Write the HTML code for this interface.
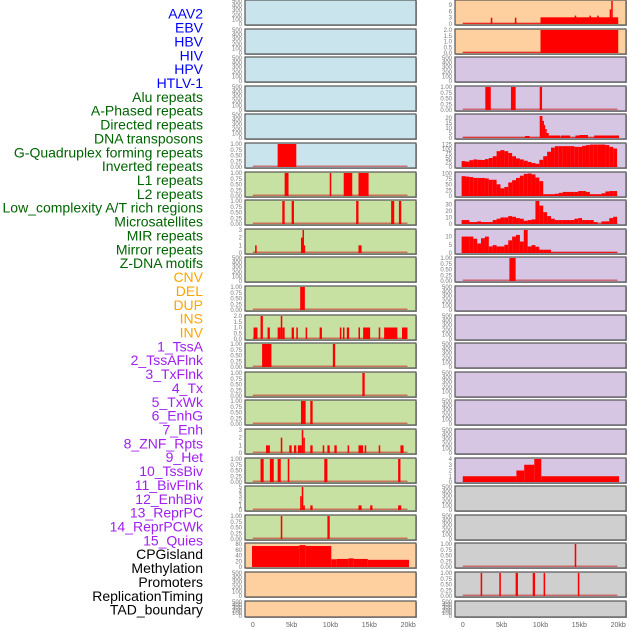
<!DOCTYPE html>
<html><head><meta charset="utf-8">
<style>
html,body{margin:0;padding:0;background:#fff;}
svg{display:block;font-family:"Liberation Sans",sans-serif;}
</style></head>
<body>
<svg id="chart" width="630" height="630" viewBox="0 0 630 630" xmlns="http://www.w3.org/2000/svg"></svg>
<script>
// ---------- data ----------
const labelNames = ["AAV2","EBV","HBV","HIV","HPV","HTLV-1","Alu repeats","A-Phased repeats","Directed repeats","DNA transposons","G-Quadruplex forming repeats","Inverted repeats","L1 repeats","L2 repeats","Low_complexity A/T rich regions","Microsatellites","MIR repeats","Mirror repeats","Z-DNA motifs","CNV","DEL","DUP","INS","INV","1_TssA","2_TssAFlnk","3_TxFlnk","4_Tx","5_TxWk","6_EnhG","7_Enh","8_ZNF_Rpts","9_Het","10_TssBiv","11_BivFlnk","12_EnhBiv","13_ReprPC","14_ReprPCWk","15_Quies","CPGisland","Methylation","Promoters","ReplicationTiming","TAD_boundary"];
const labelGroups = ["v","v","v","v","v","v","r","r","r","r","r","r","r","r","r","r","r","r","r","s","s","s","s","s","c","c","c","c","c","c","c","c","c","c","c","c","c","c","c","o","o","o","o","o"];
const xTicks = [0,5,10,15,20];
const xTickLabels = ["0","5kb","10kb","15kb","20kb"];

// segment tracks: [startKb, endKb, value]
const L5 = [[3.2,5.6,1]];
const L6 = [[4.1,4.6,1],[9.9,10.1,1],[11.7,12.8,1],[13.6,14.9,1]];
const L7 = [[3.8,4.1,1],[5.0,5.3,1],[13.3,13.6,1],[17.8,18.2,1],[18.8,19.1,1]];
const L8 = [[0.3,0.5,1],[6.2,6.4,2],[6.4,6.55,3],[6.55,6.7,1],[13.6,14.0,1]];
const L10 = [[6.1,6.7,1]];
const L11 = [[0.1,0.6,1],[1.0,1.3,2],[1.9,2.2,1],[3.2,3.6,1],[3.6,3.8,2],[3.8,4.1,1],[5.0,5.3,1],[5.6,5.8,1],[6.8,7.0,1],[8.6,8.9,1],[11.2,11.4,1],[11.6,11.8,1],[12.1,12.4,1],[13.6,13.8,1],[14.2,15.1,1],[16.2,16.4,1],[16.9,18.6,1],[19.2,19.9,1]];
const L12 = [[1.2,2.4,1],[10.3,10.6,1]];
const L13 = [[14.1,14.4,1]];
const L14 = [[6.2,6.8,1],[7.4,7.7,1]];
const L15 = [[1.7,2.2,1],[3.6,3.8,2],[4.7,5.0,1],[5.3,5.6,1],[5.8,6.3,1],[6.3,6.5,3],[6.5,6.7,2],[7.4,7.7,1],[9.0,9.2,1],[9.6,9.9,1],[10.5,10.8,1],[12.2,12.4,1],[13.6,14.2,1],[14.4,14.6,1],[16.2,16.4,1],[19.0,19.4,1]];
const L16 = [[1.0,1.4,1],[2.2,2.7,1],[3.2,3.6,1],[4.5,4.7,1],[9.2,9.6,1],[18.7,19.0,1]];
const L17 = [[6.1,6.3,3],[6.3,6.5,5],[6.5,6.7,1],[7.4,7.7,1],[13.6,14.0,1],[15.1,15.4,1],[18.7,19.1,1]];
const L18 = [[3.6,3.8,1],[9.6,9.9,1]];
const L19 = [[-0.1,6.0,73],[6.0,6.8,76],[6.8,10.1,73],[10.1,10.8,27],[10.8,12.3,28],[12.3,13.0,30],[13.0,14.8,28],[14.8,20.1,25]];

const R0 = [[0,10,0.3],[3.6,3.8,3],[6.7,6.9,3],[10,20,3.2],[14.4,14.6,4],[16.3,16.5,4],[17.3,17.5,4],[18.9,19.1,7],[19.1,19.2,11]];
const R1 = [[0,10,0.05],[10,20,2]];
const R3 = [[2.9,3.6,1],[6.2,6.8,1],[9.9,10.2,1]];
const R4 = [[0,8.0,0.5],[8.0,8.6,2],[8.6,9.9,0.5],[9.9,10.25,22],[10.25,10.4,17],[10.4,10.6,13],[10.6,10.75,9],[10.75,11.05,5],[11.05,12.5,2.5],[12.5,12.6,0.5],[12.6,13.8,2.5],[13.8,14.5,0.5],[14.5,15.0,2.5],[15.0,16.1,3],[16.1,16.9,0.5],[16.9,20.1,2.5]];
// binned tracks (0.5 kb bins starting at -0.15 kb)
const R5 = [33,30,38,42,40,39,44,50,60,88,94,88,78,60,48,42,35,28,22,18,40,60,85,108,116,116,116,116,116,112,112,118,122,125,125,125,125,122,112,103];
const R6 = [88,86,84,80,80,80,78,72,72,52,34,40,60,70,80,90,98,100,96,82,66,8,8,8,10,14,18,18,18,18,22,22,18,8,8,8,12,20,22,22];
const R7 = [6,6,3,3,4,3,3,3,6,8,10,10,12,11,9,8,5,6,7,35,28,18,12,8,6,6,6,6,6,8,9,6,6,6,3,0.5,4,4,9,11];
const R8 = [10,10,10,8.7,5.8,9,10,4,4.8,4,4,5,7.7,10,11,7,14,4,4.8,3.8,2,2,2,0.5,0.5,0.5,0.5,0.5,0.5,0.5,0.5,0.5,0.5,0.5,0.5,0.5,0.5,0.5,0.5,0.5];
const R9 = [[6.0,6.8,1]];
const R16 = [[0,6.9,1],[6.9,7.9,2],[7.9,9.2,3],[9.2,10.1,4],[10.1,20.1,1]];
const R19 = [[14.4,14.6,1]];
const R20 = [[2.3,2.5,1],[4.7,4.9,1],[6.8,7.1,1],[9.0,9.3,1],[10.4,10.6,1],[14.8,15.0,1]];

// ---------- layout ----------
const NS = "http://www.w3.org/2000/svg";
const svg = document.getElementById("chart");
const colColors = {v:"#0000ff", r:"#006400", s:"#ffa500", c:"#a020f0", o:"#000000"};
const bg = {v:"#c9e4ec", r:"#c7e1a3", s:"#fed0a0", c:"#d6c5e3", o:"#cfcfcf"};
function mk(tag, attrs){const e=document.createElementNS(NS,tag);for(const k in attrs)e.setAttribute(k,attrs[k]);svg.appendChild(e);return e;}

labelNames.forEach((n,i)=>{
  const t = mk("text",{x:203,y:15+i*13.86,"text-anchor":"end","dominant-baseline":"middle","font-size":14,fill:colColors[labelGroups[i]]});
  t.textContent = n;
  
  
});

function xScale(col){const x0 = col===0?245:455; return kb => x0 + (kb+1)*171/22;}
function rowTop(r){return Math.round(28.6*r);}
function rowH(r){return r===21?16:25;}

const empty = {ymax:500, ticks:[0,100,200,300,400,500], fmt:0};
const unit = {ymax:1, ticks:[0,0.25,0.5,0.75,1], fmt:2};
const tracks = [
  // left column
  [0,0,"v",empty,null],[0,1,"v",empty,null],[0,2,"v",empty,null],[0,3,"v",empty,null],[0,4,"v",empty,null],
  [0,5,"v",unit,L5],[0,6,"r",unit,L6],[0,7,"r",unit,L7],
  [0,8,"r",{ymax:3,ticks:[0,1,2,3],fmt:0},L8],[0,9,"r",empty,null],[0,10,"r",unit,L10],
  [0,11,"r",{ymax:2,ticks:[0,0.5,1,1.5,2],fmt:1},L11],[0,12,"r",unit,L12],[0,13,"r",unit,L13],[0,14,"r",unit,L14],
  [0,15,"r",{ymax:3,ticks:[0,1,2,3],fmt:0},L15],[0,16,"r",unit,L16],
  [0,17,"r",{ymax:5,ticks:[0,1,2,3,4,5],fmt:0},L17],[0,18,"r",unit,L18],
  [0,19,"s",{ymax:80,ticks:[0,20,40,60,80],fmt:0},L19],[0,20,"s",empty,null],[0,21,"s",empty,null],
  // right column
  [1,0,"s",{ymax:11,ticks:[0,3,6,9],fmt:0},R0],[1,1,"s",{ymax:2,ticks:[0,0.5,1,1.5,2],fmt:1},R1],
  [1,2,"c",empty,null],[1,3,"c",unit,R3],[1,4,"c",{ymax:23,ticks:[0,5,10,15,20],fmt:0},R4],
  [1,5,"c",{ymax:128,ticks:[0,25,50,75,100,125],fmt:0},R5],[1,6,"c",{ymax:102,ticks:[0,25,50,75,100],fmt:0},R6],
  [1,7,"c",{ymax:35,ticks:[0,10,20,30],fmt:0},R7],[1,8,"c",{ymax:14,ticks:[0,5,10],fmt:0},R8],
  [1,9,"c",unit,R9],[1,10,"c",empty,null],[1,11,"c",empty,null],[1,12,"c",empty,null],[1,13,"c",empty,null],
  [1,14,"c",empty,null],[1,15,"c",empty,null],[1,16,"c",{ymax:4,ticks:[0,1,2,3,4],fmt:0},R16],
  [1,17,"o",empty,null],[1,18,"o",empty,null],[1,19,"o",unit,R19],[1,20,"o",unit,R20],[1,21,"o",empty,null]
];

tracks.forEach(([col,row,g,ax,data])=>{
  const xs = xScale(col);
  const x0 = col===0?245:455, w=171, T=rowTop(row), H=rowH(row);
  const ys = v => T+H-1 - Math.min(v,ax.ymax)/ax.ymax*(H-2);
  mk("rect",{x:x0+1,y:T+1,width:w,height:H,fill:"#aaa"});
  const p = mk("rect",{x:x0,y:T,width:w,height:H,fill:bg[g]});
  
  
  ax.ticks.forEach(tv=>{
    const t = mk("text",{x:x0-3,y:ys(tv)+2,"text-anchor":"end","font-size":6,fill:"#777"});
    t.textContent = tv.toFixed(ax.fmt);
    
    
  });
  if(data){
    const base = mk("rect",{x:xs(0),y:T+H-2.5,width:xs(19.9)-xs(0),height:1.5,fill:"rgba(200,40,40,0.6)"});
    
    
    const segs = typeof data[0]==="number" ? data.map((v,i)=>[-0.15+i*0.5,-0.15+i*0.5+0.5,v]) : data;
    segs.forEach(([a,b,v])=>{
      const x1=xs(a), x2=xs(b), y=ys(v);
      const r = mk("rect",{x:x1,y:y,width:Math.max(1.5,x2-x1),height:T+H-1-y,fill:"#ff0000"});
      
      
    });
  }
  const border = mk("rect",{x:x0,y:T,width:w,height:H,fill:"none",stroke:"#555","stroke-width":1.2});
  
  
});

[0,1].forEach(col=>{
  const xs = xScale(col);
  xTicks.forEach((kb,i)=>{
    const t = mk("text",{x:xs(kb),y:627,"text-anchor":"middle","font-size":7,fill:"#666"});
    t.textContent = xTickLabels[i];
    
    
  });
});
</script>
</body></html>
